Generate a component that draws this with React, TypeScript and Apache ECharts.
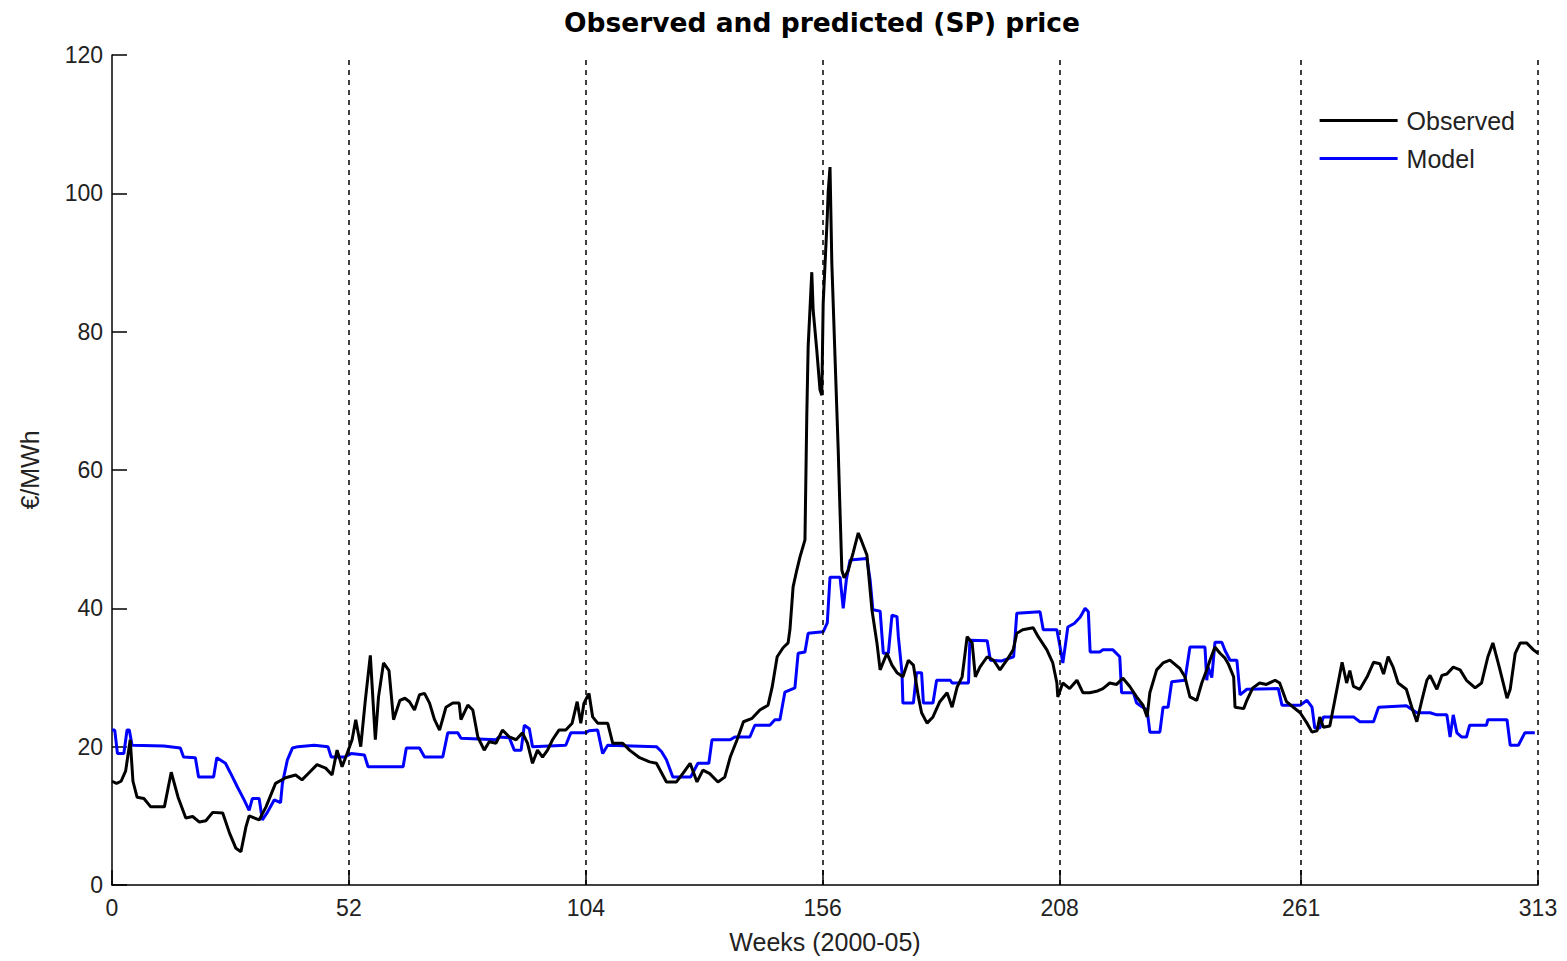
import React, { useEffect, useRef } from "react";
import * as echarts from "echarts";

const TITLE = "Observed and predicted (SP) price";
const X_NAME = "Weeks (2000-05)";
const Y_NAME = "€/MWh";
const X_TICKS = [0, 52, 104, 156, 208, 261, 313];
const V_LINES = [52, 104, 156, 208, 261, 313];

const observed: [number, number][] = [
  [0, 15], [1, 14.7], [2, 15], [3, 16.5], [4, 21], [4.6, 15], [5.5, 12.7], [7, 12.5], [8.5, 11.3], [11.5, 11.3],
  [13, 16.3], [14.5, 12.7], [16.2, 9.7], [17.7, 9.9], [19.2, 9.1], [20.6, 9.3], [22.1, 10.5], [24.3, 10.4],
  [25.8, 7.5], [27.2, 5.3], [28.3, 4.8], [29.4, 8.4], [30.1, 10], [32.3, 9.4], [33.8, 11.3], [35.9, 14.7],
  [38.1, 15.5], [40.3, 15.9], [41.7, 15.2], [43.2, 16.2], [45, 17.4], [46.9, 16.9], [48.3, 15.9], [49.4, 19.5],
  [50.5, 17.1], [51.6, 19], [52.7, 21], [53.5, 23.9], [54.6, 20], [55.6, 26.7], [56.7, 33.2], [57.8, 21],
  [58.5, 27.2], [59.6, 32.1], [60.8, 31], [61.8, 23.9], [63.2, 26.7], [64.3, 27], [65.3, 26.5], [66.4, 25.3],
  [67.5, 27.5], [68.6, 27.7], [69.7, 26.3], [70.8, 23.9], [71.9, 22.4], [73.3, 25.7], [74.8, 26.3], [76.2, 26.3],
  [76.6, 23.9], [78.1, 26], [79.2, 25.3], [80.3, 21.4], [81.7, 19.5], [82.8, 20.7], [84.3, 20.5], [85.7, 22.4],
  [87.2, 21.4], [88.7, 21], [90.1, 22], [91.2, 20.5], [92.3, 17.6], [93.4, 19.5], [94.5, 18.5], [95.6, 19.5],
  [96.7, 21], [98.1, 22.4], [99.6, 22.4], [101, 23.4], [102.1, 26.5], [102.9, 23.4], [103.6, 26.3], [104.7, 27.7],
  [105.5, 24.3], [106.6, 23.4], [108.8, 23.4], [109.9, 20.5], [112.1, 20.5], [113.6, 19.5], [115.8, 18.4],
  [118, 17.8], [119.5, 17.6], [121.7, 14.9], [123.9, 14.9], [125.4, 16.2], [126.9, 17.6], [128.4, 14.9],
  [129.7, 16.6], [131.2, 16.1], [133, 14.9], [134.5, 15.6], [135.7, 18.5], [137.2, 21], [138.6, 23.6],
  [140.5, 24.1], [142.2, 25.3], [144, 26], [144.9, 28.6], [146, 33], [147.3, 34.3], [148.4, 35], [148.8, 36.9],
  [149.5, 43.1], [150.3, 45.5], [151, 47.4], [152.1, 49.9], [152.5, 67.7], [152.8, 77.8], [153.6, 88.6],
  [153.9, 83.1], [154.7, 77.3], [155.4, 71.6], [155.8, 70.8], [156.1, 84.1], [157, 96.6], [157.2, 100.2],
  [157.6, 103.8], [158, 89.9], [158.7, 76.3], [159.4, 62.9], [159.8, 54], [160.2, 45.5], [160.7, 44.4],
  [161.6, 45.5], [162.7, 48.1], [163.8, 50.9], [164.6, 49.6], [165.7, 47.7], [166.8, 39.8], [167.9, 35],
  [168.6, 31.1], [170.1, 33.5], [171.2, 31.8], [172.3, 30.7], [173.6, 30.1], [174.8, 32.5], [175.9, 31.8],
  [177, 27.2], [177.7, 24.9], [178.9, 23.4], [180.2, 24.3], [181.7, 26.5], [183.3, 27.8], [184.4, 25.7],
  [185.5, 28.6], [186.6, 30.1], [187.7, 35.9], [188.8, 35], [189.5, 30.1], [190.5, 31.5], [192.1, 33],
  [193.5, 32.5], [194.9, 31.1], [196.4, 32.5], [197.8, 34], [198.6, 36.4], [199.9, 36.9], [202.2, 37.2],
  [203.3, 35.9], [205.2, 34], [206.5, 32.1], [207.4, 29.2], [207.6, 27.2], [208.7, 29.2], [210.2, 28.4],
  [211.8, 29.6], [213.1, 27.8], [214.6, 27.8], [216.1, 28], [217.5, 28.4], [219, 29.2], [220.5, 29],
  [221.9, 29.9], [223.4, 28.7], [224.9, 27.2], [226.3, 26], [227.2, 24.3], [227.8, 27.8], [229.3, 31.1],
  [230.7, 32.1], [232.2, 32.5], [234.4, 31.3], [235.5, 30.1], [236.6, 27.2], [238.1, 26.7], [239.2, 29.2],
  [240.3, 31.1], [241, 32.5], [242.1, 34.4], [243.2, 33.5], [244.3, 32.8], [245, 32], [246.2, 30.1],
  [246.5, 25.7], [248.4, 25.5], [249.1, 26.7], [250.4, 28.5], [251.9, 29.2], [253.4, 29], [255.3, 29.6],
  [256.3, 29.2], [257.8, 26.5], [259.3, 25.7], [260.8, 24.9], [262.3, 23.4], [263.4, 22.1], [264.5, 22.3],
  [265.1, 24.3], [265.9, 22.8], [267.3, 23], [268.4, 26.7], [270, 32.2], [271, 29.2], [271.7, 31], [272.5, 28.7],
  [273.9, 28.3], [275.5, 30.1], [276.9, 32.2], [278.3, 32], [279.1, 30.5], [280.1, 33], [281.2, 31.5],
  [282.3, 29.2], [284.1, 28.3], [285.3, 25.7], [286.4, 23.6], [287.5, 26.7], [288.6, 29.6], [289.3, 30.3],
  [290.8, 28.3], [291.9, 30.3], [293, 30.5], [294.4, 31.5], [295.9, 31.1], [297.3, 29.6], [299.2, 28.5],
  [300.6, 29.2], [302, 33], [303.1, 35], [304.5, 31.5], [306.2, 27], [306.9, 28.3], [308, 33.5], [309.1, 35],
  [310.5, 35], [312, 34], [313, 33.5],
];

const model: [number, number][] = [
  [0, 22.4], [0.6, 22.4], [1.2, 19], [2.6, 19], [3.3, 22.4], [3.8, 22.4], [4.4, 20.2], [11.4, 20.1], [15, 19.8],
  [15.7, 18.5], [18.3, 18.4], [19, 15.6], [22.3, 15.6], [23, 18.4], [24.9, 17.6], [26, 16.2], [27.5, 14.2],
  [29, 12.3], [30.1, 10.8], [30.8, 12.5], [32.3, 12.5], [33, 9.4], [34.1, 10.5], [35.6, 12.3], [37, 11.9],
  [37.4, 14.7], [38.5, 18.1], [39.6, 19.8], [40.8, 20], [44.4, 20.2], [47.4, 20], [48.1, 18.5], [51.1, 18.5],
  [52.5, 19], [55.4, 18.8], [56.2, 17.1], [63.9, 17.1], [64.6, 19.8], [67.5, 19.8], [68.6, 18.5], [72.6, 18.5],
  [73.7, 22], [75.9, 22], [76.6, 21.2], [84.3, 21], [85, 21.4], [87.2, 21.3], [88.3, 19.5], [89.8, 19.5],
  [90.5, 23.1], [91.6, 22.6], [92.3, 20], [99.6, 20.2], [100.7, 22], [104, 22], [104.7, 22.3], [106.6, 22.4],
  [107.7, 19], [108.8, 20.2], [119.5, 20], [120.6, 19.3], [121.7, 18.1], [123.1, 15.6], [127, 15.6],
  [128.6, 17.6], [131, 17.6], [131.7, 21], [135.7, 21], [136.7, 21.4], [140, 21.4], [141.1, 23.1], [144.4, 23.1],
  [145.5, 23.9], [146.6, 23.9], [147.7, 27.9], [149.9, 28.5], [150.6, 33.5], [152.1, 33.7], [152.8, 36.4],
  [156.1, 36.6], [157, 37.9], [157.6, 44.5], [159.8, 44.5], [160.5, 40], [161.2, 44.2], [162, 47], [165.7, 47.2],
  [166.4, 44.1], [167, 39.8], [168.6, 39.6], [169.3, 33.5], [170.4, 33.5], [171.2, 39], [172.3, 38.8],
  [172.6, 35.9], [173.4, 30.7], [173.6, 26.3], [175.9, 26.3], [176.6, 30.7], [177.7, 30.7], [178.1, 26.3],
  [180.2, 26.3], [181, 29.6], [184, 29.6], [184.4, 29.2], [188, 29.2], [188.3, 35.4], [192.1, 35.3],
  [192.8, 32.5], [195.3, 32.4], [197.9, 33], [198.6, 39.3], [203.7, 39.5], [204.4, 36.9], [207.4, 36.9],
  [208.1, 34.4], [208.7, 32.1], [209.2, 34.4], [209.8, 37.3], [211.2, 37.8], [212.5, 38.7], [213.6, 40],
  [214.3, 39.5], [214.7, 33.7], [216.8, 33.7], [217.5, 34], [219.7, 34], [221.2, 33], [221.6, 27.8],
  [224.2, 27.8], [224.9, 26.3], [226, 25.8], [227.2, 25.3], [227.8, 22.1], [230, 22.1], [230.7, 25.7],
  [231.8, 25.7], [232.6, 29.4], [235.5, 29.6], [236.6, 34.4], [239.9, 34.4], [240.3, 29.6], [240.6, 31.5],
  [241.4, 30], [242.1, 35.1], [243.6, 35.1], [244.3, 33.9], [245.4, 32.5], [246.9, 32.5], [247.6, 27.5],
  [249.1, 28.3], [256, 28.4], [256.8, 26], [260.8, 26], [262.3, 26.7], [263.4, 25.7], [264, 22.7], [265.1, 22.7],
  [265.9, 24.3], [272.5, 24.3], [273.9, 23.6], [276.9, 23.6], [278, 25.7], [284.1, 25.9], [286.4, 24.9],
  [289.3, 24.9], [290.8, 24.6], [293, 24.6], [293.7, 21.4], [294.4, 24.6], [295.2, 22], [296.2, 21.4],
  [297.3, 21.4], [298, 23.1], [301.7, 23.1], [302, 23.9], [306.2, 23.9], [306.9, 20.2], [308.7, 20.2],
  [310.1, 22], [312.3, 22],
];

const FONT = "'Liberation Sans', Arial, sans-serif";

export default function App() {
  const ref = useRef<HTMLDivElement>(null);
  useEffect(() => {
    document.body.style.margin = "0";
    document.body.style.overflow = "hidden";
    if (!ref.current) return;
    const chart = echarts.init(ref.current, undefined, { renderer: "svg" });
    chart.setOption({
      animation: false,
      backgroundColor: "#ffffff",
      title: {
        text: TITLE,
        left: 817,
        textAlign: "center",
        top: 4,
        textStyle: { fontFamily: "'DejaVu Sans', sans-serif", fontWeight: "bold", fontSize: 26.5, color: "#000" },
      },
      legend: {
        data: ["Observed", "Model"],
        orient: "vertical",
        right: 47,
        top: 103,
        itemWidth: 78,
        itemHeight: 3,
        itemGap: 13,
        icon: "rect",
        textStyle: { fontFamily: FONT, fontSize: 25, color: "#222", padding: [0, 0, 0, 4] },
      },
      grid: { left: 112, right: 29, top: 55, bottom: 76, outerBoundsMode: "none", containLabel: false },
      xAxis: {
        type: "value",
        min: 0,
        max: 313,
        name: X_NAME,
        nameLocation: "middle",
        nameGap: 44,
        nameTextStyle: { fontFamily: FONT, fontSize: 25, color: "#222" },
        axisLine: { show: true, lineStyle: { color: "#000", width: 1.5 } },
        axisTick: { show: true, inside: true, length: 15, customValues: X_TICKS, lineStyle: { color: "#000", width: 1.5 } },
        axisLabel: { customValues: X_TICKS, fontFamily: FONT, fontSize: 23, color: "#222", margin: 11 },
        splitLine: { show: false },
      },
      yAxis: {
        type: "value",
        min: 0,
        max: 120,
        interval: 20,
        name: Y_NAME,
        nameLocation: "middle",
        nameGap: 70,
        nameTextStyle: { fontFamily: FONT, fontSize: 25, color: "#222" },
        axisLine: { show: true, lineStyle: { color: "#000", width: 1.5 } },
        axisTick: { show: true, inside: true, length: 15, lineStyle: { color: "#000", width: 1.5 } },
        axisLabel: { fontFamily: FONT, fontSize: 23, color: "#222", margin: 9 },
        splitLine: { show: false },
      },
      series: [
        {
          name: "grid-lines",
          type: "line",
          data: [],
          silent: true,
          z: 1,
          markLine: {
            silent: true,
            symbol: "none",
            label: { show: false },
            lineStyle: { color: "#000", type: [5, 5], width: 1.5 },
            data: V_LINES.map((v) => ({ xAxis: v })),
          },
        },
        {
          name: "Observed",
          type: "line",
          data: observed,
          showSymbol: false,
          z: 3,
          lineStyle: { color: "#000", width: 3 },
          itemStyle: { color: "#000" },
        },
        {
          name: "Model",
          type: "line",
          data: model,
          showSymbol: false,
          z: 2,
          lineStyle: { color: "#0000ff", width: 3 },
          itemStyle: { color: "#0000ff" },
        },
      ],
    });
    return () => chart.dispose();
  }, []);
  return <div ref={ref} style={{ width: 1567, height: 961 }} />;
}
